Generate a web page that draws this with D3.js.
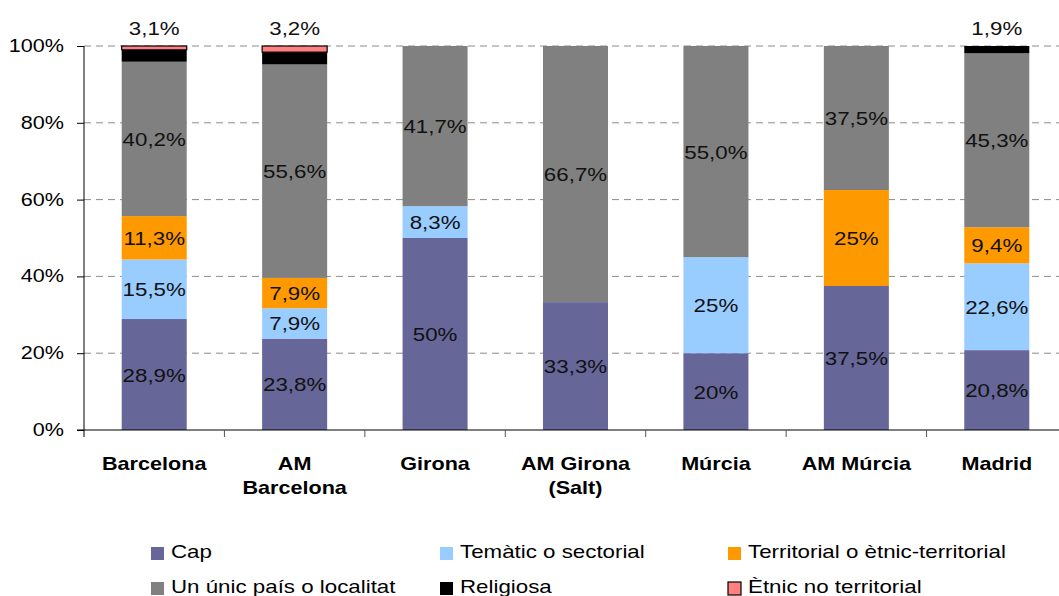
<!DOCTYPE html>
<html>
<head>
<meta charset="utf-8">
<script src="https://cdn.jsdelivr.net/npm/d3@7"></script>
<style>
  body { margin: 0; background: #fff; }
  svg { display: block; font-family: "Liberation Sans", Arial, sans-serif; }
</style>
</head>
<body>
<svg id="chart" width="1059" height="596"></svg>
<script>
// data (percent)
const categories = [['Barcelona'], ['AM', 'Barcelona'], ['Girona'], ['AM Girona', '(Salt)'], ['Múrcia'], ['AM Múrcia'], ['Madrid']]
const seriesNames = ['Cap', 'Temàtic o sectorial', 'Territorial o ètnic-territorial', 'Un únic país o localitat', 'Religiosa', 'Ètnic no territorial']
const cap = [28.9, 23.8, 50, 33.3, 20, 37.5, 20.8]
const tematic = [15.5, 7.9, 8.3, 0, 25, 0, 22.6]
const territorial = [11.3, 7.9, 0, 0, 0, 25, 9.4]
const unic = [40.2, 55.6, 41.7, 66.7, 55.0, 37.5, 45.3]
const religiosa = [3.1, 3.2, 0, 0, 0, 0, 1.9]
const etnic = [1.0, 1.6, 0, 0, 0, 0, 0]
const labels = [
  ['28,9%', '23,8%', '50%', '33,3%', '20%', '37,5%', '20,8%'],
  ['15,5%', '7,9%', '8,3%', '', '25%', '', '22,6%'],
  ['11,3%', '7,9%', '', '', '', '25%', '9,4%'],
  ['40,2%', '55,6%', '41,7%', '66,7%', '55,0%', '37,5%', '45,3%'],
  ['3,1%', '3,2%', '', '', '', '', '1,9%'],
  ['', '', '', '', '', '', '']
]
const yTicks = [0, 20, 40, 60, 80, 100]

const colors = ['#666699', '#99ccff', '#ff9900', '#808080', '#000000', '#ff8080']
const allSeries = [cap, tematic, territorial, unic, religiosa, etnic]

const margin = {top: 46, left: 84, bottom: 166}
const width = 1067, height = 596

const svg = d3.select('#chart')

const xScale = d3.scaleBand()
  .domain(d3.range(categories.length))
  .range([margin.left, width])
  .paddingInner(0.537)
  .paddingOuter(0.2685)

const yScale = d3.scaleLinear()
  .domain([0, 100])
  .range([height - margin.bottom, margin.top])

// the reference text is stretched horizontally
const txt = (g, x, y, s, sx = 1.2) => g.append('text')
  .attr('transform', `translate(${x},${y}) scale(${sx},1)`)
  .text(s)

// gridlines
svg.append('g')
  .selectAll('line')
  .data(yTicks.filter(d => d > 0))
  .enter().append('line')
    .attr('x1', margin.left).attr('x2', 1059)
    .attr('y1', d => yScale(d)).attr('y2', d => yScale(d))
    .attr('stroke', '#8c8c8c')
    .attr('stroke-width', 1)
    .attr('stroke-dasharray', '7,5')

// stacked bars
const stack = d3.stack().keys(d3.range(allSeries.length)).value((i, k) => allSeries[k][i])
const stacked = stack(d3.range(categories.length))

const layers = svg.append('g').selectAll('g')
  .data(stacked)
  .enter().append('g')
    .attr('fill', (d, i) => colors[i])

layers.each((layer, k, g) => {
  d3.select(g[k]).selectAll('rect')
    .data(layer.filter(d => d[1] - d[0] > 0))
    .enter().append('rect')
      .attr('x', d => xScale(d.data))
      .attr('width', xScale.bandwidth())
      .attr('y', d => yScale(d[1]))
      .attr('height', d => yScale(d[0]) - yScale(d[1]))
      .attr('stroke', k === 5 ? '#000' : 'none')
      .attr('stroke-width', k === 5 ? 1.2 : 0)
})

// data labels
const lab = svg.append('g')
  .attr('font-size', 18)
  .attr('fill', '#111')
  .attr('text-anchor', 'middle')

stacked.forEach((layer, k) => {
  layer.forEach((d, i) => {
    let s = labels[k][i]
    if (!s) return
    let cx = xScale(i) + xScale.bandwidth() / 2
    if (k === 4) {
      txt(lab, cx, yScale(100) - 11, s, 1.24)
    } else {
      txt(lab, cx, (yScale(d[0]) + yScale(d[1])) / 2 + 7, s, 1.24)
    }
  })
})

// axes
const axisLeft = svg.append('g')
  .attr('transform', `translate(${margin.left},0)`)
  .call(d3.axisLeft(yScale).tickValues(yTicks).tickSize(7).tickFormat(''))
axisLeft.select('.domain').attr('d', `M0,${yScale(100)}V${yScale(0) + 7}`)
axisLeft.selectAll('line, path').attr('stroke', '#000')

const yLab = svg.append('g').attr('font-size', 18).attr('text-anchor', 'end').attr('fill', '#000')
yTicks.forEach(t => txt(yLab, 64, yScale(t) + 6, t + '%'))

const axisBottom = svg.append('g')
  .attr('transform', `translate(0,${yScale(0)})`)
axisBottom.append('line')
  .attr('x1', margin.left - 7).attr('x2', 1059)
  .attr('stroke', '#000')
axisBottom.selectAll('.tick')
  .data(d3.range(1, categories.length))
  .enter().append('line')
    .attr('x1', i => xScale(i) - xScale.step() * xScale.paddingInner() / 2)
    .attr('x2', i => xScale(i) - xScale.step() * xScale.paddingInner() / 2)
    .attr('y1', 0).attr('y2', 7)
    .attr('stroke', '#555')

const xLab = svg.append('g')
  .attr('font-size', 18).attr('font-weight', 'bold')
  .attr('text-anchor', 'middle').attr('fill', '#000')
categories.forEach((lines, i) => {
  lines.forEach((l, j) => txt(xLab, xScale(i) + xScale.bandwidth() / 2, 470 + j * 24, l))
})

// legend
const legX = [151, 440, 728]
const legY = [558, 593]
const leg = svg.append('g').attr('font-size', 18).attr('fill', '#000')
seriesNames.forEach((name, i) => {
  let x = legX[i % 3], y = legY[Math.floor(i / 3)]
  leg.append('rect')
    .attr('x', x).attr('y', y - 11)
    .attr('width', 13).attr('height', 13)
    .attr('fill', colors[i])
    .attr('stroke', i === 5 ? '#000' : 'none')
    .attr('stroke-width', 1.2)
  txt(leg, x + 20, y, name, 1.24)
})
</script>
</body>
</html>
